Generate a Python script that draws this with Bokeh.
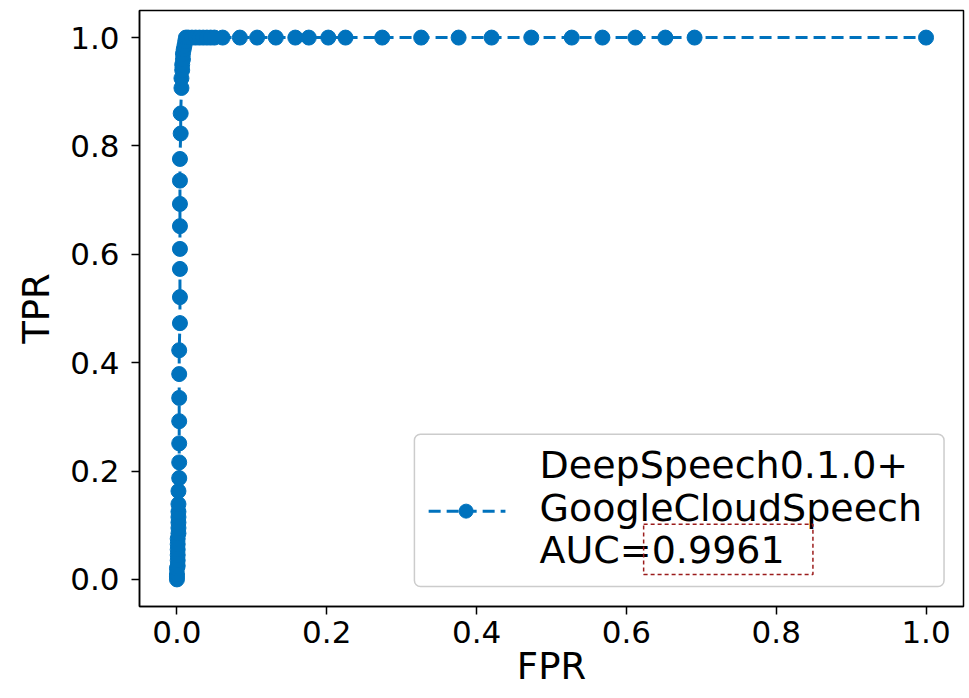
from bokeh.plotting import figure
from bokeh.models import Range1d, FixedTicker, NumeralTickFormatter, BoxAnnotation, Label, ColumnDataSource
from bokeh.embed import file_html
from bokeh.resources import INLINE

# ROC curve values
fpr = [0.0, 0.0, 0.0, 0.0, 0.001, 0.001, 0.001, 0.001, 0.001, 0.001, 0.002, 0.002, 0.002, 0.002, 0.002,
       0.002, 0.002, 0.003, 0.003, 0.003, 0.003, 0.003, 0.003,
       0.003, 0.004, 0.004, 0.004, 0.004, 0.004, 0.004, 0.004, 0.004,
       0.005, 0.005,
       0.006, 0.006, 0.007, 0.007, 0.008, 0.008, 0.009, 0.010, 0.011, 0.012,
       0.015, 0.02, 0.025, 0.03, 0.035, 0.04, 0.045, 0.05, 0.061, 0.084, 0.107, 0.132, 0.158,
       0.176, 0.202, 0.225, 0.274, 0.326, 0.376, 0.420, 0.473, 0.527, 0.568, 0.612, 0.652,
       0.691, 1.0]
tpr = [0.0, 0.005, 0.01, 0.02, 0.025, 0.035, 0.045, 0.055, 0.065, 0.075, 0.085, 0.095, 0.105, 0.115, 0.125,
       0.139, 0.163, 0.187, 0.216, 0.251, 0.292, 0.335, 0.379,
       0.423, 0.473, 0.521, 0.573, 0.61, 0.652, 0.693, 0.736, 0.776,
       0.823, 0.86,
       0.907, 0.925, 0.94, 0.95, 0.96, 0.97, 0.978, 0.985, 0.993, 1.0,
       1.0, 1.0, 1.0, 1.0, 1.0, 1.0, 1.0, 1.0, 1.0, 1.0, 1.0, 1.0, 1.0,
       1.0, 1.0, 1.0, 1.0, 1.0, 1.0, 1.0, 1.0, 1.0, 1.0, 1.0, 1.0,
       1.0, 1.0]
ticks = [0.0, 0.2, 0.4, 0.6, 0.8, 1.0]
legend_lines = ["DeepSpeech0.1.0+", "GoogleCloudSpeech", "AUC=0.9961"]

BLUE = "#0072BD"
FONT = "DejaVu Sans"

p = figure(width=969, height=698, x_range=Range1d(-0.05, 1.05), y_range=Range1d(-0.05, 1.05),
           output_backend="svg", toolbar_location=None,
           min_border_left=139, min_border_right=6, min_border_top=10, min_border_bottom=92)

p.grid.visible = False
p.outline_line_color = "black"
p.outline_line_width = 1.5
p.background_fill_color = "white"
p.border_fill_color = "white"

for ax in (p.xaxis[0], p.yaxis[0]):
    ax.ticker = FixedTicker(ticks=ticks)
    ax.formatter = NumeralTickFormatter(format="0.0")
    ax.minor_tick_line_color = None
    ax.major_tick_in = 0
    ax.major_tick_out = 8
    ax.major_tick_line_width = 1.5
    ax.axis_line_width = 1.5
    ax.major_label_text_font = FONT
    ax.major_label_text_font_size = "31px"
    ax.major_label_text_color = "black"
    ax.axis_label_text_font = FONT
    ax.axis_label_text_font_size = "37px"
    ax.axis_label_text_font_style = "normal"
    ax.axis_label_text_color = "black"

p.xaxis.major_label_standoff = 6
p.xaxis.axis_label = "FPR"
p.xaxis.axis_label_standoff = -1
p.yaxis.major_label_standoff = 12
p.yaxis.axis_label = "TPR"
p.yaxis.axis_label_standoff = 9

src = ColumnDataSource(dict(x=fpr, y=tpr))
p.line("x", "y", source=src, line_color=BLUE, line_width=3, line_dash="12 6")
p.scatter("x", "y", source=src, size=15, fill_color=BLUE, line_color=BLUE)

# manual legend
p.add_layout(BoxAnnotation(left=0.317, right=1.024, bottom=-0.013, top=0.268,
                           fill_color="white", fill_alpha=0.85, line_color="#cccccc", line_alpha=1.0,
                           line_width=1.5, border_radius=6, level="annotation"))
hsrc = ColumnDataSource(dict(x=[0.336, 0.4385], y=[0.126, 0.126]))
p.line("x", "y", source=hsrc, line_color=BLUE, line_width=3, line_dash="12 6", level="overlay")
p.scatter(x=[0.386], y=[0.126], size=14, fill_color=BLUE, line_color=BLUE, level="overlay")
for txt, yb in zip(legend_lines, [0.211, 0.131, 0.054]):
    p.add_layout(Label(x=0.484, y=yb, text=txt, text_font=FONT, text_font_size="38px",
                       text_baseline="alphabetic", text_color="black", level="overlay"))

# dashed highlight box around the AUC value
p.add_layout(BoxAnnotation(left=0.623, right=0.849, bottom=0.009, top=0.102,
                           fill_alpha=0, line_color="#9b1c1c", line_alpha=1.0, line_width=1.5,
                           line_dash="4 3", level="overlay"))

open("out.html", "w").write(file_html(p, INLINE))
